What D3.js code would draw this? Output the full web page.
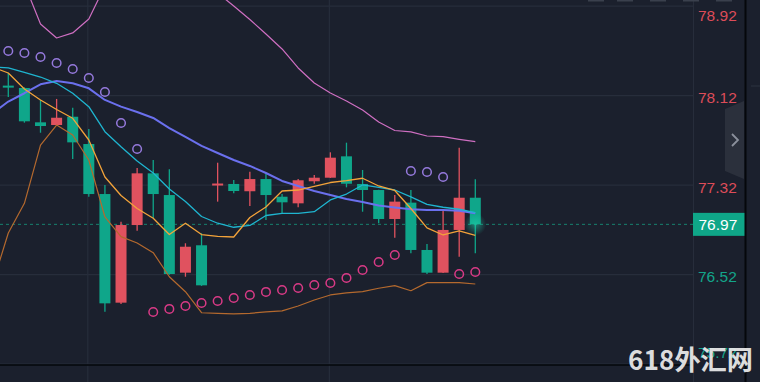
<!DOCTYPE html>
<html>
<head>
<meta charset="utf-8">
<script src="https://cdn.jsdelivr.net/npm/d3@7"></script>
<style>
html, body { margin: 0; padding: 0; background: #1b202d; }
svg { display: block; }
</style>
</head>
<body>
<div class="chart"></div>
<script>
var width = 760;
var height = 382;
var plot = {left: 0, right: 693, top: 0, bottom: 365};

// candles, oldest first
var opens  = [78.210, 78.189, 77.882, 77.858, 77.932, 77.688, 77.241, 76.270, 76.964, 77.426,
              77.232, 76.538, 76.783, 77.320, 77.331, 77.266, 77.375, 77.217, 77.158, 77.355,
              77.387, 77.578, 77.331, 77.277, 77.018, 77.164, 76.741, 76.538, 76.920, 77.208];
var highs  = [78.323, 78.195, 78.082, 78.091, 78.013, 77.822, 77.322, 76.994, 77.474, 77.545,
              77.462, 76.801, 76.890, 77.521, 77.367, 77.441, 77.420, 77.241, 77.375, 77.411,
              77.614, 77.700, 77.456, 77.280, 77.232, 77.277, 76.794, 77.092, 77.655, 77.373];
var lows   = [78.108, 77.879, 77.789, 77.855, 77.554, 77.217, 76.189, 76.258, 76.913, 77.027,
              76.520, 76.502, 76.420, 77.173, 77.248, 77.134, 77.009, 77.072, 77.122, 77.333,
              77.385, 77.301, 77.083, 76.979, 76.851, 76.711, 76.526, 76.535, 76.681, 76.711];
var closes = [78.200, 77.891, 77.849, 77.923, 77.703, 77.241, 76.264, 76.964, 77.426, 77.241,
              76.526, 76.770, 76.425, 77.335, 77.268, 77.375, 77.232, 77.167, 77.364, 77.387,
              77.566, 77.333, 77.277, 77.018, 77.173, 76.741, 76.538, 76.920, 77.208, 76.970];

// indicator lines, first value is the bar just left of the view
var ma_fast = [78.377, 78.323, 78.180, 78.082, 77.997, 77.918, 77.724, 77.393, 77.228, 77.112,
               77.024, 76.879, 76.980, 76.879, 76.862, 76.857, 77.031, 77.125, 77.268, 77.277,
               77.309, 77.344, 77.360, 77.382, 77.313, 77.273, 77.112, 76.938, 76.875, 76.911, 76.871];
var ma_mid  = [78.377, 78.368, 78.328, 78.287, 78.231, 78.142, 78.022, 77.798, 77.664, 77.536,
               77.429, 77.286, 77.174, 77.040, 76.980, 76.944, 76.960, 77.049, 77.069, 77.069,
               77.083, 77.188, 77.241, 77.322, 77.300, 77.277, 77.215, 77.148, 77.123, 77.105, 77.074];
var boll_mid = [77.961, 78.068, 78.142, 78.222, 78.252, 78.231, 78.186, 78.082, 78.022, 77.974,
                77.921, 77.831, 77.751, 77.671, 77.608, 77.545, 77.492, 77.429, 77.358, 77.313,
                77.268, 77.233, 77.197, 77.170, 77.139, 77.121, 77.105, 77.098, 77.098, 77.092, 77.069];
var boll_up = [79.494, 79.279, 79.119, 78.761, 78.636, 78.681, 78.806, 79.101, 79.181, 79.145,
               79.128, 79.163, 79.136, 79.163, 79.038, 78.922, 78.801, 78.672, 78.538, 78.368,
               78.234, 78.144, 78.073, 77.992, 77.885, 77.809, 77.796, 77.760, 77.754, 77.730, 77.709];
var boll_low = [76.428, 76.893, 77.158, 77.679, 77.858, 77.769, 77.545, 77.036, 76.860, 76.803,
                76.717, 76.502, 76.368, 76.180, 76.175, 76.169, 76.175, 76.187, 76.196, 76.240,
                76.294, 76.339, 76.357, 76.368, 76.399, 76.422, 76.377, 76.449, 76.449, 76.449, 76.437];
// parabolic sar, one per candle
var sar = [78.520, 78.502, 78.466, 78.412, 78.359, 78.278, 78.153, 77.876, 77.644, 76.187,
           76.214, 76.240, 76.267, 76.285, 76.312, 76.339, 76.366, 76.383, 76.401, 76.428,
           76.446, 76.491, 76.562, 76.634, 76.696, 77.447, 77.438, 77.393, 76.526, 76.544];

var tick_values = [78.92, 78.12, 77.32, 76.52, 75.72];
var last_price = 76.97;
var time_grid = [5, 20];
var watermark = "618外汇网";

var col_up = "#e0525f";
var col_down = "#0fa68a";

var svg = d3.select(".chart").append("svg")
    .attr("width", width)
    .attr("height", height);

svg.append("rect").attr("width", width).attr("height", height).attr("fill", "#1b202d");

// scales
var x = d3.scaleLinear().domain([0, 29]).range([8.3, 475.3]);
var y = d3.scaleLinear().domain([75.72, 78.92]).range([364.2, 6.2]);

var defs = svg.append("defs");
defs.append("clipPath").attr("id", "plot_clip")
    .append("rect").attr("x", plot.left).attr("y", plot.top)
    .attr("width", plot.right - plot.left).attr("height", plot.bottom - plot.top);
var glow = defs.append("radialGradient").attr("id", "glow");
glow.append("stop").attr("offset", "0%").attr("stop-color", "#1fd3ad").attr("stop-opacity", 0.55);
glow.append("stop").attr("offset", "100%").attr("stop-color", "#1fd3ad").attr("stop-opacity", 0);

// grid
var grid = svg.append("g").attr("class", "grid");
grid.selectAll("line.h").data(tick_values).enter().append("line")
    .attr("class", "h")
    .attr("x1", plot.left).attr("x2", plot.right)
    .attr("y1", d => y(d)).attr("y2", d => y(d))
    .attr("stroke", "#272d3b").attr("stroke-width", 1.2);
grid.selectAll("line.v").data(time_grid).enter().append("line")
    .attr("class", "v")
    .attr("x1", d => x(d) - 1).attr("x2", d => x(d) - 1)
    .attr("y1", 0).attr("y2", height)
    .attr("stroke", "#272d3b").attr("stroke-width", 1.2);

var chart = svg.append("g").attr("clip-path", "url(#plot_clip)");

// last price dashed line
chart.append("line")
    .attr("x1", plot.left).attr("x2", plot.right)
    .attr("y1", y(last_price)).attr("y2", y(last_price))
    .attr("stroke", "#17806d").attr("stroke-width", 1)
    .attr("stroke-dasharray", "3,3");

// indicator lines
var line = d3.line()
    .x((d, i) => x(i - 1))
    .y(d => y(d));

var series = [
    {data: boll_up, color: "#cf6fc2", w: 1.2},
    {data: boll_low, color: "#b4692e", w: 1.2},
    {data: boll_mid, color: "#6b70ee", w: 2},
    {data: ma_mid, color: "#1fb5d0", w: 1.3},
    {data: ma_fast, color: "#f3a33a", w: 1.3}
];

// candles
var candles = closes.map((c, i) => ({o: opens[i], h: highs[i], l: lows[i], c: c, i: i}));
var bars = chart.append("g").selectAll("g").data(candles).enter().append("g");
bars.append("line")
    .attr("x1", d => x(d.i)).attr("x2", d => x(d.i))
    .attr("y1", d => y(d.h)).attr("y2", d => y(d.l))
    .attr("stroke", d => d.c >= d.o ? col_up : col_down)
    .attr("stroke-width", 1.3);
bars.append("rect")
    .attr("x", d => x(d.i) - 5.5)
    .attr("width", 11)
    .attr("y", d => y(Math.max(d.o, d.c)))
    .attr("height", d => Math.max(2, y(Math.min(d.o, d.c)) - y(Math.max(d.o, d.c))))
    .attr("fill", d => d.c >= d.o ? col_up : col_down);

chart.append("g").selectAll("path").data(series).enter().append("path")
    .attr("d", d => line(d.data))
    .attr("fill", "none")
    .attr("stroke", d => d.color)
    .attr("stroke-width", d => d.w)
    .attr("stroke-linejoin", "round");

// sar dots
chart.append("g").selectAll("circle").data(sar).enter().append("circle")
    .attr("cx", (d, i) => x(i))
    .attr("cy", d => y(d))
    .attr("r", 4.3)
    .attr("fill", "none")
    .attr("stroke-width", 1.5)
    .attr("stroke", (d, i) => d > highs[i] ? "#9579dc" : "#d93a86");

// glow on the live bar
chart.append("circle")
    .attr("cx", x(29)).attr("cy", y(last_price))
    .attr("r", 11).attr("fill", "url(#glow)");

// bottom frame line
svg.append("line")
    .attr("x1", 0).attr("x2", plot.right)
    .attr("y1", plot.bottom).attr("y2", plot.bottom)
    .attr("stroke", "#05070b").attr("stroke-width", 1.5);

// right price axis
svg.append("line")
    .attr("x1", plot.right + 0.5).attr("x2", plot.right + 0.5)
    .attr("y1", 0).attr("y2", height)
    .attr("stroke", "#272d3b").attr("stroke-width", 1);

var y_axis = svg.append("g")
    .attr("transform", "translate(" + plot.right + ",0)")
    .call(d3.axisRight(y).tickValues(tick_values).tickSize(0).tickPadding(5).tickFormat(d3.format(".2f")));
y_axis.select(".domain").remove();
y_axis.selectAll(".tick")
    .attr("transform", d => "translate(0," + Math.min(353.5, Math.max(16.5, y(d) + 2.5)) + ")");
y_axis.selectAll("text")
    .attr("font-family", "'Liberation Sans', Arial, sans-serif")
    .attr("font-size", "15.5px")
    .attr("fill", d => d > last_price ? "#dd4c59" : "#13a58a");

// last price tag
svg.append("rect")
    .attr("x", plot.right).attr("y", y(last_price) - 11.5)
    .attr("width", 52).attr("height", 23)
    .attr("fill", "#0fa688");
svg.append("text")
    .attr("x", plot.right + 5.5).attr("y", y(last_price))
    .attr("dy", "0.36em")
    .attr("font-family", "'Liberation Sans', Arial, sans-serif")
    .attr("font-size", "15.5px")
    .attr("fill", "#ffffff")
    .text(d3.format(".2f")(last_price));

// side panel + collapse button
svg.append("line")
    .attr("x1", 745.5).attr("x2", 745.5).attr("y1", 0).attr("y2", height)
    .attr("stroke", "#05070b").attr("stroke-width", 2);
svg.append("line")
    .attr("x1", 751).attr("x2", width).attr("y1", 86).attr("y2", 86)
    .attr("stroke", "#2c3240").attr("stroke-width", 1);
svg.append("polygon")
    .attr("points", "725,109 744,101 744,179 725,171")
    .attr("fill", "#2b303c");
svg.append("polyline")
    .attr("points", "732,134 738,140 732,146")
    .attr("fill", "none").attr("stroke", "#8b909c").attr("stroke-width", 1.8);

// top toolbar remnants
svg.append("g").selectAll("rect").data([588, 617, 650, 683, 716]).enter().append("rect")
    .attr("x", d => d).attr("y", 0).attr("width", 16).attr("height", 1.5)
    .attr("fill", "#3a404d");

// watermark
svg.append("text")
    .attr("x", 628).attr("y", 370)
    .attr("font-family", "'Noto Sans CJK SC', 'Noto Sans', sans-serif")
    .attr("font-weight", "bold")
    .attr("font-size", "27px")
    .attr("fill", "#e9e9e9")
    .attr("fill-opacity", 0.95)
    .attr("textLength", 125)
    .attr("lengthAdjust", "spacingAndGlyphs")
    .text(watermark);
</script>
</body>
</html>
